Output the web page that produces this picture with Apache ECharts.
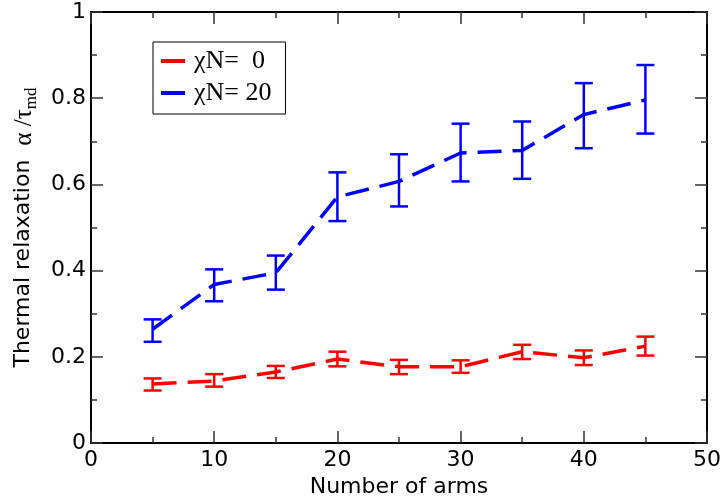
<!DOCTYPE html>
<html>
<head>
<meta charset="utf-8">
<script src="https://cdn.jsdelivr.net/npm/echarts@6/dist/echarts.min.js"></script>
<style>html,body{margin:0;padding:0;background:#fff}#c{width:724px;height:503px}</style>
</head>
<body>
<div id="c"></div>
<script>
const arms = [5, 10, 15, 20, 25, 30, 35, 40, 45];
const red = [0.137, 0.144, 0.165, 0.195, 0.177, 0.177, 0.212, 0.198, 0.225];
const redLow = [0.122, 0.131, 0.151, 0.178, 0.160, 0.163, 0.195, 0.181, 0.203];
const redHigh = [0.150, 0.160, 0.179, 0.212, 0.193, 0.192, 0.228, 0.215, 0.247];
const blue = [0.264, 0.368, 0.395, 0.571, 0.607, 0.673, 0.679, 0.762, 0.796];
const blueLow = [0.235, 0.329, 0.356, 0.515, 0.549, 0.607, 0.613, 0.684, 0.718];
const blueHigh = [0.287, 0.403, 0.435, 0.628, 0.670, 0.741, 0.746, 0.835, 0.877];
const names = ['χN=  0', 'χN= 20'];

const chart = echarts.init(document.getElementById('c'));

function errSeries(low, high, color) {
  return {
    type: 'custom',
    silent: true,
    data: arms.map((x, i) => [x, low[i], high[i]]),
    encode: {x: 0, y: [1, 2]},
    renderItem: function (params, api) {
      const x = api.value(0);
      const p1 = api.coord([x, api.value(1)]);
      const p2 = api.coord([x, api.value(2)]);
      const hw = 9;
      const st = {stroke: color, lineWidth: 2.5};
      return {
        type: 'group',
        children: [
          {type: 'line', shape: {x1: p1[0], y1: p1[1], x2: p2[0], y2: p2[1]}, style: st},
          {type: 'line', shape: {x1: p1[0] - hw, y1: p1[1], x2: p1[0] + hw, y2: p1[1]}, style: st},
          {type: 'line', shape: {x1: p2[0] - hw, y1: p2[1], x2: p2[0] + hw, y2: p2[1]}, style: st}
        ]
      };
    }
  };
}

const axisLine = {show: true, onZero: false, lineStyle: {color: '#000', width: 2}};
const tick = {show: true, inside: true, length: 12, lineStyle: {color: '#333', width: 1.5}};
const minor = {show: true, splitNumber: 2, length: 6, lineStyle: {color: '#333', width: 1.5}};
const labelFont = {fontFamily: 'DejaVu Sans', fontSize: 22, color: '#000'};

chart.setOption({
  animation: false,
  backgroundColor: '#fff',
  grid: {left: 91, right: 16, top: 12, bottom: 59},
  legend: {
    left: 153, top: 42,
    orient: 'vertical',
    data: names,
    icon: 'rect',
    itemWidth: 24, itemHeight: 4,
    itemGap: 6,
    padding: [6, 14, 8, 8],
    borderColor: '#000', borderWidth: 1,
    textStyle: {fontFamily: 'Liberation Serif', fontSize: 26, color: '#000', lineHeight: 22, padding: [0, 0, 0, 4]}
  },
  xAxis: [{
    type: 'value', min: 0, max: 50, interval: 10, position: 'bottom',
    axisLine: axisLine, axisTick: tick, minorTick: minor,
    splitLine: {show: false}, minorSplitLine: {show: false},
    axisLabel: Object.assign({margin: 6}, labelFont),
    name: 'Number of arms', nameLocation: 'middle', nameGap: 32,
    nameTextStyle: {fontFamily: 'DejaVu Sans', fontSize: 22, color: '#000'}
  }, {
    type: 'value', min: 0, max: 50, interval: 10, position: 'top',
    axisLine: axisLine, axisTick: tick, minorTick: minor,
    splitLine: {show: false}, axisLabel: {show: false}
  }],
  yAxis: [{
    type: 'value', min: 0, max: 1, interval: 0.2, position: 'left',
    axisLine: axisLine, axisTick: tick, minorTick: minor,
    splitLine: {show: false}, minorSplitLine: {show: false},
    axisLabel: Object.assign({margin: 5}, labelFont),
    name: '{a|Thermal relaxation  }{b|α /τ}{c|md}',
    nameLocation: 'middle', nameGap: 53,
    nameTextStyle: {
      rich: {
        a: {fontFamily: 'DejaVu Sans', fontSize: 22, color: '#000', lineHeight: 24, verticalAlign: 'top'},
        b: {fontFamily: 'Liberation Serif', fontSize: 25, color: '#000', lineHeight: 24, verticalAlign: 'top'},
        c: {fontFamily: 'Liberation Serif', fontSize: 17, color: '#000', lineHeight: 17, verticalAlign: 'top', padding: [11, 0, 0, 0]}
      }
    }
  }, {
    type: 'value', min: 0, max: 1, interval: 0.2, position: 'right',
    axisLine: axisLine, axisTick: tick, minorTick: minor,
    splitLine: {show: false}, axisLabel: {show: false}
  }],
  series: [
    errSeries(redLow, redHigh, '#ff0000'),
    errSeries(blueLow, blueHigh, '#0000ff'),
    {
      name: names[0], type: 'line', symbol: 'none',
      data: arms.map((x, i) => [x, red[i]]),
      itemStyle: {color: '#ff0000'},
      lineStyle: {color: '#ff0000', width: 3.5, type: [24, 11]}
    },
    {
      name: names[1], type: 'line', symbol: 'none',
      data: arms.map((x, i) => [x, blue[i]]),
      itemStyle: {color: '#0000ff'},
      lineStyle: {color: '#0000ff', width: 3.5, type: [24, 11]}
    }
  ]
});
</script>
</body>
</html>
